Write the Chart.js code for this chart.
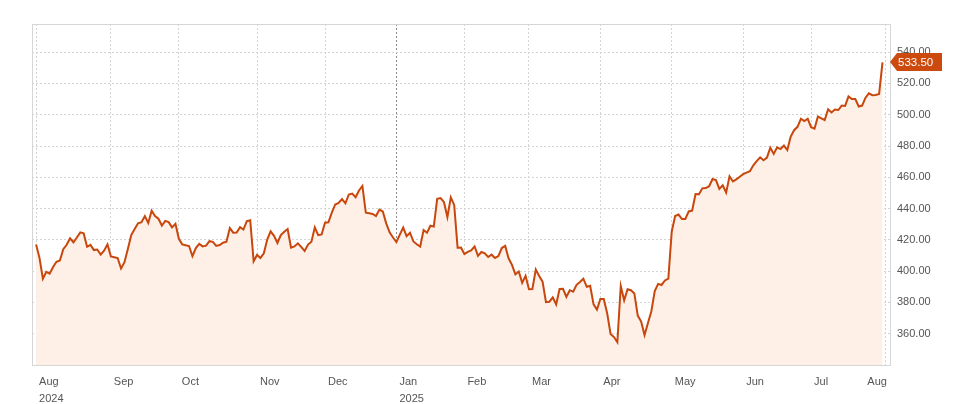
<!DOCTYPE html>
<html>
<head>
<meta charset="utf-8">
<script src="https://cdn.jsdelivr.net/npm/chart.js@4/dist/chart.umd.min.js"></script>
<style>
html,body{margin:0;padding:0;background:#fff;}
#wrap{width:960px;height:404px;position:relative;}
</style>
</head>
<body>
<div id="wrap"><canvas id="c" width="960" height="404"></canvas></div>
<script>
// Daily closes, 1 Aug 2024 – 31 Jul 2025 (trading days)
const closes = [
// Aug 2024
417.11,408.49,395.15,399.61,398.43,402.69,406.02,406.81,414.01,416.86,421.03,418.47,421.53,424.80,424.14,415.55,416.79,413.49,413.84,410.60,413.12,417.14,
// Sep
409.44,408.90,408.39,401.70,405.72,414.20,423.04,427.00,430.59,431.34,435.15,430.81,438.69,435.27,433.51,429.17,432.11,431.31,428.02,430.30,
// Oct
420.69,417.13,416.54,416.06,409.54,414.71,417.46,415.84,416.32,419.14,418.74,416.12,416.72,418.16,418.78,427.51,424.60,424.73,428.15,426.59,431.95,432.53,406.35,
// Nov
410.37,408.46,411.46,420.18,425.43,422.54,418.01,423.03,425.20,426.89,415.00,415.76,417.79,415.49,412.87,417.00,418.79,427.99,422.99,423.46,
// Dec
430.98,431.20,437.42,442.62,443.57,446.02,443.33,448.99,449.56,447.27,451.59,454.46,437.39,437.03,436.60,435.25,439.33,438.11,430.53,424.83,421.50,
// Jan 2025
418.58,423.35,427.85,422.37,424.56,418.95,417.19,415.67,426.31,424.58,429.03,428.50,446.20,446.71,444.06,434.56,447.20,442.33,414.99,415.06,
// Feb
410.92,412.37,413.29,415.82,409.75,412.22,411.44,409.04,410.54,408.43,409.64,414.77,416.13,408.21,404.00,397.90,399.73,392.53,396.99,
// Mar
388.49,388.61,401.02,396.89,393.31,380.16,380.45,383.27,378.77,388.56,388.70,383.52,387.82,386.84,391.26,393.08,395.16,389.97,390.58,378.80,375.39,
// Apr
382.19,382.14,373.11,359.84,357.86,354.56,390.49,381.35,388.45,387.81,385.73,371.61,367.78,359.12,366.82,374.39,387.30,391.85,391.16,394.04,395.26,
// May
425.40,435.28,436.17,433.31,433.35,438.17,438.73,449.26,449.14,452.94,453.13,454.27,458.87,458.17,452.57,454.86,450.18,460.69,457.36,458.68,460.36,
// Jun
461.97,462.97,463.87,467.68,470.38,472.75,470.92,472.62,478.87,474.96,479.14,478.04,480.24,477.40,486.00,490.11,492.27,497.45,495.94,497.41,
// Jul
492.05,491.09,498.84,497.72,496.62,503.51,501.48,503.32,503.02,505.82,505.62,511.70,510.05,510.06,505.27,505.87,510.88,513.71,512.50,512.57,513.24,533.50
];

// index of the first trading day of each month
const monthTickIdx = [0,22,42,65,85,106,126,145,166,187,208,228,250];
const monthLabels  = ['Aug','Sep','Oct','Nov','Dec','Jan','Feb','Mar','Apr','May','Jun','Jul','Aug'];
const yearLabels   = ['2024','','','','','2025','','','','','','',''];
const yTickValues  = [360,380,400,420,440,460,480,500,520,540];

const yearIdx = 106;
const LINE = '#c8470c';
const FONT = {family:'"Liberation Sans", Arial, sans-serif', size:11, lineHeight:1.5};

const framePlugin = {
  id:'frame',
  beforeDatasetsDraw(chart){
    const {ctx, chartArea:a} = chart;
    ctx.save();
    ctx.strokeStyle = '#d6d6d6';
    ctx.lineWidth = 1;
    ctx.strokeRect(Math.round(a.left)+0.5, Math.round(a.top)+0.5, Math.round(a.right-a.left)-1, Math.round(a.bottom-a.top));
    ctx.restore();
  },
  afterDraw(chart){
    const {ctx, chartArea:a, scales} = chart;
    // last x-axis label, right-aligned at its tick
    const lastI = monthTickIdx.length-1;
    const lx = scales.x.getPixelForValue(monthTickIdx[lastI]);
    ctx.save();
    ctx.font = '11px "Liberation Sans", Arial, sans-serif';
    ctx.fillStyle = '#555';
    ctx.textAlign = 'right';
    ctx.textBaseline = 'middle';
    ctx.fillText(monthLabels[lastI], lx+1, 382);
    // last value callout
    const last = closes[closes.length-1];
    const y = Math.round(scales.y.getPixelForValue(last));
    const x0 = a.right - 1;
    ctx.fillStyle = '#cc4a0e';
    ctx.beginPath();
    ctx.moveTo(x0, y);
    ctx.lineTo(x0+7, y-9);
    ctx.lineTo(942, y-9);
    ctx.lineTo(942, y+9);
    ctx.lineTo(x0+7, y+9);
    ctx.closePath();
    ctx.fill();
    ctx.fillStyle = '#fff';
    ctx.textAlign = 'left';
    ctx.font = '11.5px "Liberation Sans", Arial, sans-serif';
    ctx.fillText(last.toFixed(2), 898, y+0.5);
    ctx.restore();
  }
};

new Chart(document.getElementById('c'), {
  type:'line',
  data:{
    datasets:[{
      data: closes.map((v,i)=>({x:i,y:v})),
      borderColor: LINE,
      borderWidth: 2,
      backgroundColor: '#fef0e7',
      fill: 'start',
      pointRadius: 0,
      tension: 0
    }]
  },
  options:{
    responsive:false,
    animation:false,
    devicePixelRatio:1,
    layout:{padding:{left:32, top:24, right:0, bottom:0}},
    plugins:{legend:{display:false}, tooltip:{enabled:false}},
    scales:{
      x:{
        type:'linear',
        min:-1.2, max:251.5,
        afterBuildTicks(s){ s.ticks = monthTickIdx.map(v=>({value:v})); },
        afterFit(s){ s.height = 39; },
        grid:{
          color:(c)=> (c.tick && c.tick.value===yearIdx) ? '#8a8a8a' : '#d4d4d4',
          lineWidth:1, drawTicks:false
        },
        border:{display:false, dash:[2,2]},
        ticks:{
          autoSkip:false, maxRotation:0, align:'start', labelOffset:3, padding:9,
          color:'#555', font:FONT,
          callback(v, i){
            const k = monthTickIdx.indexOf(v);
            if (k === monthTickIdx.length-1) return '';
            return yearLabels[k] ? [monthLabels[k], yearLabels[k]] : monthLabels[k];
          }
        }
      },
      y:{
        position:'right',
        min:340, max:558,
        afterBuildTicks(s){ s.ticks = yTickValues.map(v=>({value:v})); },
        afterFit(s){ s.width = 69; },
        grid:{color:'#d4d4d4', lineWidth:1, drawTicks:false},
        border:{display:false, dash:[2,2]},
        ticks:{
          padding:6, color:'#555', font:{family:FONT.family, size:11},
          callback:(v)=>Number(v).toFixed(2)
        }
      }
    }
  },
  plugins:[framePlugin]
});
</script>
</body>
</html>
